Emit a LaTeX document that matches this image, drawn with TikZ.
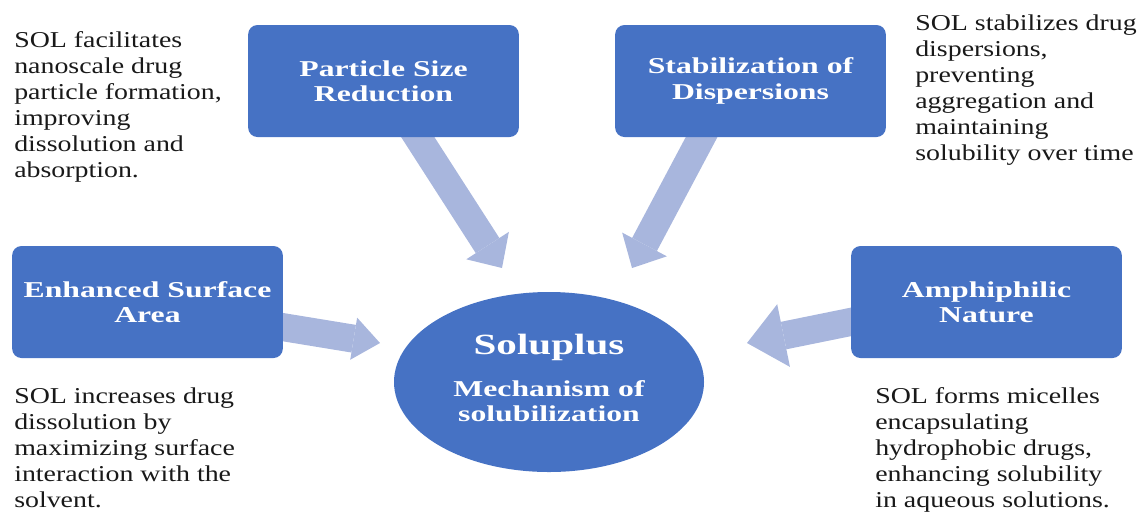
\documentclass[tikz,border=0pt]{standalone}
\usepackage{fontspec}
\setmainfont{Liberation Serif}[FakeStretch=1.23]
\newfontfamily\boxfont{Liberation Serif}[FakeStretch=1.4]
\usepackage{tikz}
\usetikzlibrary{shapes.geometric,arrows.meta,backgrounds}
\definecolor{boxblue}{RGB}{70,114,196}
\definecolor{arrowblue}{RGB}{168,182,221}
\definecolor{bodytext}{RGB}{25,25,25}

\begin{document}
\begin{tikzpicture}[x=0.75pt,y=-0.75pt,
  causebox/.style={rectangle,rounded corners=7pt,fill=boxblue,text=white,
    minimum width=203pt,minimum height=84pt,align=center,inner sep=0pt,
    font=\boxfont\fontsize{17}{19}\selectfont\bfseries},
  note/.style={anchor=north west,align=left,inner sep=0pt,text=bodytext,
    font=\fontsize{17}{19.5}\selectfont},
  bigarrow/.style={draw=arrowblue,line width=21pt,
    -{Triangle[length=20pt,width=#1,line width=0pt]}},
  bigarrow/.default=38pt]
  \useasboundingbox (0,0) rectangle (1141,512);
  \node[causebox] (psr) at (383.5,81) {Particle Size\\Reduction};
  \node[causebox] (sod) at (750.5,81) {Stabilization of\\Dispersions};
  \node[causebox] (esa) at (147.5,302) {Enhanced Surface\\Area};
  \node[causebox] (amn) at (986.5,302) {Amphiphilic\\Nature};
  \node[ellipse,fill=boxblue,minimum width=232.5pt,minimum height=135pt,inner sep=0pt]
    (core) at (549,382) {};
  \node[text=white,inner sep=0pt,align=center,font=\boxfont\fontsize{17}{19}\selectfont\bfseries]
    (coretext) at (549,378) {{\fontsize{22}{26}\selectfont Soluplus}\\[12pt]Mechanism of\\solubilization};
  \coordinate (t1) at (410,125);  \coordinate (h1) at (502,268);
  \coordinate (t2) at (708,125);  \coordinate (h2) at (632,268);
  \coordinate (t3) at (270,325);  \coordinate (h3) at (380,343);
  \coordinate (t4) at (865,319);  \coordinate (h4) at (747,343);
  \begin{scope}[on background layer]
    \draw[bigarrow] (t1) -- (h1);
    \draw[bigarrow] (t2) -- (h2);
    \draw[bigarrow=32pt] (t3) -- (h3);
    \draw[draw=arrowblue,line width=21pt,
      -{Triangle[length=28pt,width=48pt,line width=0pt]}] (t4) -- (h4);
  \end{scope}
  \node[note] (psrnote) at (14,31) {SOL facilitates\\nanoscale drug\\particle formation,\\improving\\dissolution and\\absorption.};
  \node[note] (sodnote) at (915,14) {SOL stabilizes drug\\dispersions,\\preventing\\aggregation and\\maintaining\\solubility over time};
  \node[note] (esanote) at (14,387) {SOL increases drug\\dissolution by\\maximizing surface\\interaction with the\\solvent.};
  \node[note] (amnnote) at (875,387) {SOL forms micelles\\encapsulating\\hydrophobic drugs,\\enhancing solubility\\in aqueous solutions.};
\end{tikzpicture}
\end{document}
